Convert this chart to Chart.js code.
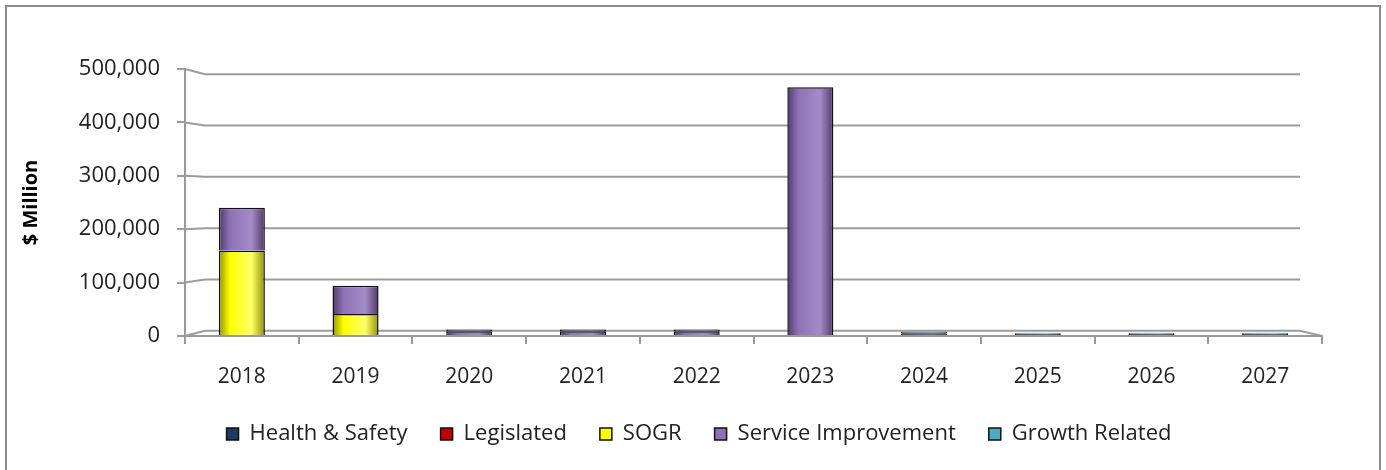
<!DOCTYPE html>
<html>
<head>
<meta charset="utf-8">
<script src="https://cdn.jsdelivr.net/npm/chart.js@4/dist/chart.umd.min.js"></script>
<style>
    html, body { margin: 0; padding: 0; background: #fff; }
    #wrap {
        position: absolute; left: 5px; top: 5px;
        width: 1372px; height: 470px;
        border: 2px solid #8c8c8c;
        background: #fff;
    }
    #chart { display: block; }
</style>
</head>
<body>
<div id="wrap"><canvas id="chart" width="1372" height="463"></canvas></div>
<script>
// Datos
const years = ['2018', '2019', '2020', '2021', '2022', '2023', '2024', '2025', '2026', '2027'];
const healthSafety = [0, 0, 0, 0, 0, 0, 5000, 4000, 4000, 4000];
const legislated = [0, 0, 0, 0, 0, 0, 0, 0, 0, 0];
const sogr = [160000, 41000, 0, 0, 0, 0, 0, 0, 0, 0];
const serviceImprovement = [80000, 53000, 9000, 9000, 9000, 466000, 0, 0, 0, 0];
const growthRelated = [0, 0, 3000, 3000, 3000, 0, 3000, 2000, 2000, 2000];
const yTicks = [0, 100000, 200000, 300000, 400000, 500000];

const FONT = '"Open Sans", Lato, sans-serif';

// colores: base, oscuro, claro
const palette = {
    hs:  ['#1f3a60', '#0b1a2e', '#365a88'],
    leg: ['#c00000', '#600000', '#e03030'],
    sogr:['#ffff00', '#8a8a00', '#ffff66'],
    si:  ['#8e72b5', '#4a3466', '#a58cc8'],
    gr:  ['#4bacc6', '#1d5a6a', '#7cc8dc']
};

// sombreado tipo cilindro
function shade(cols) {
    return function(ctx) {
        const chart = ctx.chart;
        const x = chart.scales && chart.scales.x;
        if (ctx.type !== 'data' || !x || !chart.chartArea) return cols[0];
        const cx = x.getPixelForValue(ctx.dataIndex);
        const w = 24;
        const g = chart.ctx.createLinearGradient(cx - w, 0, cx + w, 0);
        g.addColorStop(0, cols[1]);
        g.addColorStop(0.25, cols[0]);
        g.addColorStop(0.7, cols[2]);
        g.addColorStop(1, cols[1]);
        return g;
    };
}

function makeSet(label, data, cols) {
    return {
        label: label,
        data: data,
        backgroundColor: shade(cols),
        legendColor: cols[0],
        borderColor: '#111',
        borderWidth: 1.5,
        barPercentage: 0.81,
        categoryPercentage: 0.5
    };
}

// pared de fondo con perspectiva (líneas de cuadrícula)
const backWall = {
    id: 'backWall',
    beforeDatasetsDraw(chart) {
        const c = chart.ctx, a = chart.chartArea, y = chart.scales.y;
        const mid = (a.top + a.bottom) / 2;
        const dx = 20, dxr = 22;
        c.save();
        c.strokeStyle = '#9c9c9c';
        c.lineWidth = 2;
        yTicks.forEach(function(v) {
            const yf = y.getPixelForValue(v);
            const yb = mid + (yf - mid) * 0.96;
            c.beginPath();
            c.moveTo(a.left, yf);
            c.lineTo(a.left + dx, yb);
            c.lineTo(a.right - dxr, yb);
            if (v === 0) c.lineTo(a.right, yf);
            c.stroke();
        });
        c.restore();
    }
};

const ctx = document.getElementById('chart').getContext('2d');
new Chart(ctx, {
    type: 'bar',
    data: {
        labels: years,
        datasets: [
            makeSet('Health & Safety', healthSafety, palette.hs),
            makeSet('Legislated', legislated, palette.leg),
            makeSet('SOGR', sogr, palette.sogr),
            makeSet('Service Improvement', serviceImprovement, palette.si),
            makeSet('Growth Related', growthRelated, palette.gr)
        ]
    },
    plugins: [backWall],
    options: {
        responsive: false,
        animation: false,
        layout: { padding: { left: 12, right: 0, top: 62, bottom: 15 } },
        plugins: {
            tooltip: { enabled: false },
            legend: {
                position: 'bottom',
                labels: {
                    font: { family: FONT, size: 22 },
                    color: '#222',
                    boxWidth: 12,
                    boxHeight: 12,
                    padding: 33,
                    generateLabels: function(chart) {
                        return chart.data.datasets.map(function(ds, i) {
                            return {
                                text: ds.label,
                                fillStyle: ds.legendColor,
                                strokeStyle: '#111',
                                lineWidth: 1.5,
                                fontColor: '#222',
                                hidden: false,
                                datasetIndex: i
                            };
                        });
                    }
                }
            }
        },
        scales: {
            x: {
                stacked: true,
                grid: {
                    offset: true,
                    drawOnChartArea: false,
                    drawTicks: true,
                    tickLength: 8,
                    color: '#999',
                    lineWidth: 2
                },
                border: { color: '#999', width: 2 },
                ticks: {
                    font: { family: FONT, size: 21 },
                    color: '#222',
                    padding: 20
                },
                afterFit: function(scale) { scale.height = 54; }
            },
            y: {
                stacked: true,
                min: 0,
                max: 500000,
                afterBuildTicks: function(scale) {
                    scale.ticks = yTicks.map(function(v) { return { value: v }; });
                },
                ticks: {
                    font: { family: FONT, size: 22 },
                    color: '#222',
                    padding: 17,
                    callback: function(v) { return v.toLocaleString('en-US'); }
                },
                grid: {
                    drawOnChartArea: false,
                    color: '#9c9c9c',
                    lineWidth: 2,
                    tickLength: 8
                },
                border: { color: '#999', width: 2 },
                title: {
                    display: true,
                    text: '$ Million',
                    font: { family: FONT, size: 20, weight: 'bold' },
                    color: '#000',
                    padding: { top: 0, bottom: 18 }
                },
                afterFit: function(scale) { scale.width = 166; }
            },
            // eje vacío a la derecha para dejar margen
            margen: {
                position: 'right',
                min: 0,
                max: 500000,
                grid: { display: false },
                ticks: { display: false },
                border: { display: false },
                afterFit: function(scale) { scale.width = 57; }
            }
        }
    }
});
</script>
</body>
</html>
